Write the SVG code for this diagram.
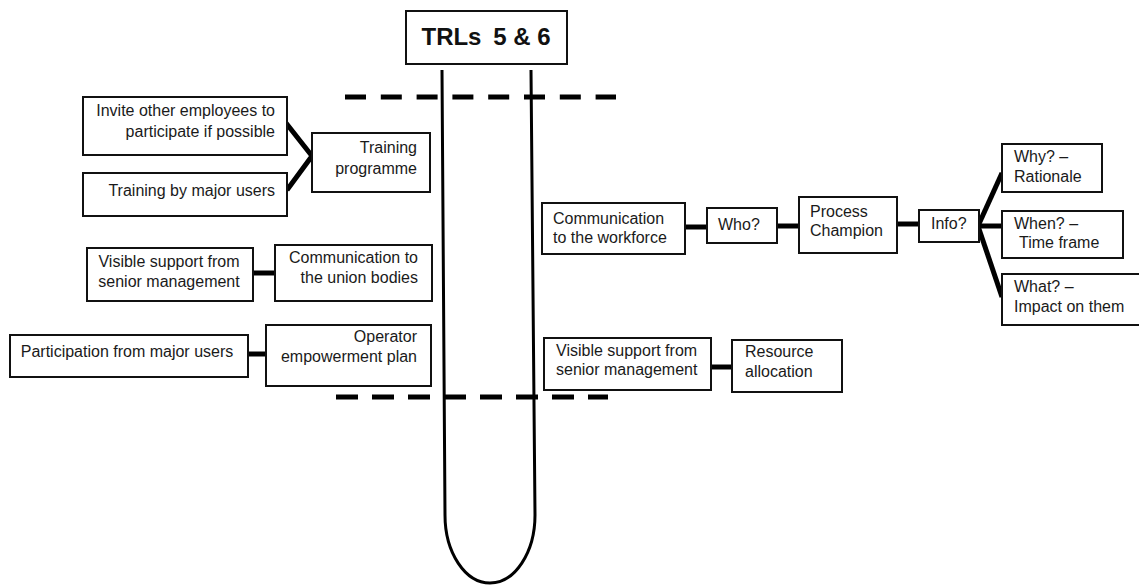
<svg xmlns="http://www.w3.org/2000/svg" width="1139" height="586" viewBox="0 0 1139 586">
<style>
  .box { fill: #ffffff; stroke: #111111; stroke-width: 2; }
  .t { font-family: "Liberation Sans", Arial, sans-serif; font-size: 16px; fill: #1a1a1a; }
  .r { text-anchor: end; }
  .m { text-anchor: middle; }
  .title { font-family: "Liberation Sans", Arial, sans-serif; font-size: 24px; font-weight: bold; fill: #111111; text-anchor: middle; }
  .conn { stroke: #000000; stroke-width: 5; fill: none; stroke-linecap: butt; }
  .tube { stroke: #000000; stroke-width: 3; fill: none; }
  .dash { stroke: #000000; stroke-width: 5; fill: none; }
</style>
<rect width="1139" height="586" fill="#ffffff"/>

<!-- tube and dashed boundaries -->
<g id="tube">
  <path class="tube" d="M442,70 L445,515 A45,68 0 0 0 535,515 L531,70"/>
</g>
<g id="boundaries">
  <line class="dash" x1="345" y1="97" x2="616" y2="97" stroke-dasharray="21 14.8"/>
  <line class="dash" x1="336" y1="397" x2="608" y2="397" stroke-dasharray="22 14"/>
</g>

<!-- connectors -->
<g id="connectors">
  <polyline class="conn" points="286,123 312,156 287,190"/>
  <line class="conn" x1="253" y1="273" x2="275" y2="273"/>
  <line class="conn" x1="248" y1="354" x2="266" y2="354"/>
  <line class="conn" x1="685" y1="227" x2="707" y2="227"/>
  <line class="conn" x1="777" y1="226" x2="799" y2="226"/>
  <line class="conn" x1="897" y1="224" x2="919" y2="224"/>
  <line class="conn" x1="978" y1="226" x2="1002" y2="173"/>
  <line class="conn" x1="978" y1="226" x2="1002" y2="226"/>
  <line class="conn" x1="978" y1="226" x2="1002" y2="297"/>
  <line class="conn" x1="711" y1="367" x2="732" y2="367"/>
</g>

<!-- nodes -->
<g id="trl">
  <rect class="box" x="406" y="11" width="161" height="53"/>
  <text class="title" x="486" y="45">TRLs <tspan dx="5">5 &amp; 6</tspan></text>
</g>

<g id="invite">
  <rect class="box" x="83" y="97" width="204" height="58"/>
  <text class="t r" x="275" y="116">Invite other employees to</text>
  <text class="t r" x="275" y="137">participate if possible</text>
</g>
<g id="training-by">
  <rect class="box" x="83" y="173" width="204" height="43"/>
  <text class="t r" x="275" y="196">Training by major users</text>
</g>
<g id="training-programme">
  <rect class="box" x="312" y="133" width="118" height="59"/>
  <text class="t r" x="417" y="153">Training</text>
  <text class="t r" x="417" y="174">programme</text>
</g>

<g id="visible-left">
  <rect class="box" x="87" y="248" width="166" height="53"/>
  <text class="t m" x="169" y="267">Visible support from</text>
  <text class="t m" x="169" y="287">senior management</text>
</g>
<g id="union">
  <rect class="box" x="275" y="245" width="157" height="56"/>
  <text class="t r" x="418" y="263">Communication to</text>
  <text class="t r" x="418" y="283">the union bodies</text>
</g>

<g id="participation">
  <rect class="box" x="10" y="335" width="238" height="42"/>
  <text class="t m" x="127" y="357">Participation from major users</text>
</g>
<g id="operator">
  <rect class="box" x="266" y="325" width="165" height="61"/>
  <text class="t r" x="417" y="342">Operator</text>
  <text class="t r" x="417" y="362">empowerment plan</text>
</g>

<g id="workforce">
  <rect class="box" x="542" y="203" width="143" height="51"/>
  <text class="t" x="553" y="224">Communication</text>
  <text class="t" x="553" y="243">to the workforce</text>
</g>
<g id="who">
  <rect class="box" x="707" y="208" width="70" height="35"/>
  <text class="t" x="718" y="230">Who?</text>
</g>
<g id="champion">
  <rect class="box" x="799" y="197" width="98" height="56"/>
  <text class="t" x="810" y="217">Process</text>
  <text class="t" x="810" y="236">Champion</text>
</g>
<g id="info">
  <rect class="box" x="919" y="210" width="60" height="32"/>
  <text class="t" x="931" y="229">Info?</text>
</g>
<g id="why">
  <rect class="box" x="1002" y="144" width="100" height="48"/>
  <text class="t" x="1014" y="162">Why? –</text>
  <text class="t" x="1014" y="182">Rationale</text>
</g>
<g id="when">
  <rect class="box" x="1002" y="211" width="121" height="47"/>
  <text class="t" x="1014" y="229">When? –</text>
  <text class="t" x="1019" y="248">Time frame</text>
</g>
<g id="what">
  <rect class="box" x="1002" y="274" width="140" height="51"/>
  <text class="t" x="1014" y="292">What? –</text>
  <text class="t" x="1014" y="312">Impact on them</text>
</g>

<g id="visible-right">
  <rect class="box" x="544" y="338" width="167" height="52"/>
  <text class="t" x="556" y="356">Visible support from</text>
  <text class="t" x="556" y="375">senior management</text>
</g>
<g id="resource">
  <rect class="box" x="732" y="340" width="110" height="52"/>
  <text class="t" x="745" y="357">Resource</text>
  <text class="t" x="745" y="377">allocation</text>
</g>
</svg>
